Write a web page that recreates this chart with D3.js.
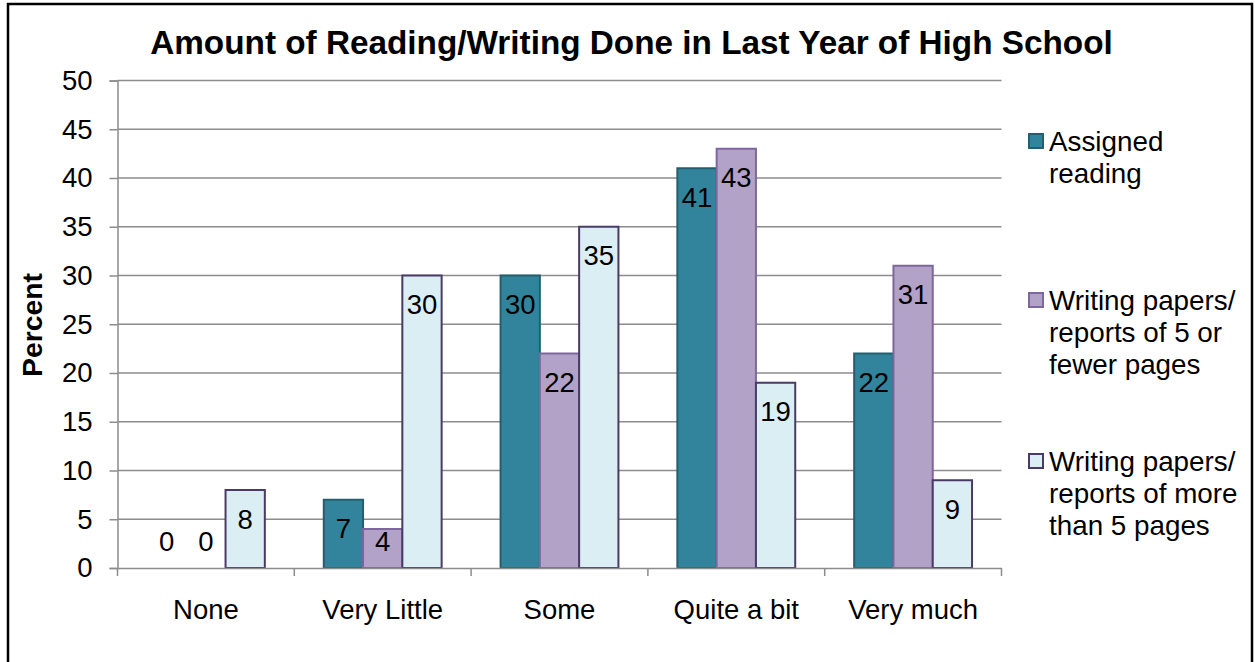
<!DOCTYPE html>
<html>
<head>
<meta charset="utf-8">
<script src="https://cdn.jsdelivr.net/npm/d3@7"></script>
<style>
  html, body { margin: 0; padding: 0; background: #fff; }
  svg { display: block; font-family: "Liberation Sans", Arial, sans-serif; }
</style>
</head>
<body>
<svg id="chart" width="1255" height="662"></svg>
<script>
// Survey categories and percentages per series
const categories = ["None", "Very Little", "Some", "Quite a bit", "Very much"];
const seriesNames = ["Assigned reading", "Writing papers/ reports of 5 or fewer pages", "Writing papers/ reports of more than 5 pages"];
const legendLines = [
  ["Assigned", "reading"],
  ["Writing papers/", "reports of 5 or", "fewer pages"],
  ["Writing papers/", "reports of more", "than 5 pages"]
];
const assignedReading = [0, 7, 30, 41, 22];
const papersShort = [0, 4, 22, 43, 31];
const papersLong = [8, 30, 35, 19, 9];
const yTicks = [0, 5, 10, 15, 20, 25, 30, 35, 40, 45, 50];

const seriesValues = [assignedReading, papersShort, papersLong];
const fills = ["#31849b", "#b3a2c7", "#dbeef4"];
const strokes = ["#23606f", "#7e679e", "#4a3b66"];

const svg = d3.select("#chart");

// Outer frame
svg.append("rect")
  .attr("x", 8).attr("y", 4).attr("width", 1244).attr("height", 700)
  .attr("fill", "none").attr("stroke", "#000").attr("stroke-width", 2.5);

const plot = { left: 117.5, right: 1001.5, top: 80.5, bottom: 568 };

const x0 = d3.scaleBand().domain(categories).range([plot.left, plot.right]).padding(0);
const x1 = d3.scaleBand().domain(d3.range(seriesNames.length))
  .range([0, x0.bandwidth()]).paddingInner(0).paddingOuter(0.75);
const y = d3.scaleLinear().domain([0, 50]).range([plot.bottom, plot.top]);

// Horizontal gridlines
svg.append("g").selectAll("line").data(yTicks.filter(t => t > 0)).join("line")
  .attr("x1", plot.left).attr("x2", plot.right)
  .attr("y1", d => y(d)).attr("y2", d => y(d))
  .attr("stroke", "#8c8c8c").attr("stroke-width", 1.5);

// Y axis
const yAxis = svg.append("g")
  .attr("transform", `translate(${plot.left},0)`)
  .call(d3.axisLeft(y).tickValues(yTicks).tickSize(8).tickPadding(17).tickFormat(d3.format("d")));
yAxis.select(".domain").attr("stroke", "#8c8c8c").attr("stroke-width", 1.5);
yAxis.selectAll(".tick line").attr("stroke", "#8c8c8c").attr("stroke-width", 1.5);
yAxis.selectAll(".tick text")
  .attr("font-size", "27.5px").attr("fill", "#000")
  .attr("font-family", "'Liberation Sans', Arial, sans-serif");

// Bars
const groups = svg.append("g").selectAll("g").data(categories).join("g")
  .attr("transform", c => `translate(${x0(c)},0)`);

groups.each(function (c, ci) {
  const g = d3.select(this);
  seriesValues.forEach((vals, si) => {
    const v = vals[ci];
    if (v > 0) {
      g.append("rect")
        .attr("x", x1(si)).attr("width", x1.bandwidth())
        .attr("y", y(v)).attr("height", y(0) - y(v))
        .attr("fill", fills[si]).attr("stroke", strokes[si]).attr("stroke-width", 2);
    }
  });
});

// X axis (drawn over bar bottoms)
const xAxis = svg.append("g")
  .attr("transform", `translate(0,${plot.bottom})`)
  .call(d3.axisBottom(x0).tickSize(0).tickPadding(0).tickFormat(""));
xAxis.select(".domain").attr("stroke", "#8c8c8c").attr("stroke-width", 1.5);
xAxis.selectAll(".tick").remove();

// Category boundary tick marks
const boundaries = categories.map(c => x0(c)).concat([plot.right]);
svg.append("g").selectAll("line").data(boundaries).join("line")
  .attr("x1", d => d).attr("x2", d => d)
  .attr("y1", plot.bottom).attr("y2", plot.bottom + 8)
  .attr("stroke", "#8c8c8c").attr("stroke-width", 1.5);

// Category labels
svg.append("g").selectAll("text").data(categories).join("text")
  .attr("x", c => x0(c) + x0.bandwidth() / 2)
  .attr("y", 619)
  .attr("text-anchor", "middle")
  .attr("font-size", "27.5px").attr("fill", "#000")
  .text(c => c);

// Data labels, inside the bar end, kept above the baseline for short bars
groups.each(function (c, ci) {
  const g = d3.select(this);
  seriesValues.forEach((vals, si) => {
    const v = vals[ci];
    const cy = Math.min(y(v) + 29, plot.bottom - 27);
    g.append("text")
      .attr("x", x1(si) + x1.bandwidth() / 2)
      .attr("y", cy)
      .attr("dy", "0.35em")
      .attr("text-anchor", "middle")
      .attr("font-size", "27.5px").attr("fill", "#000")
      .text(v);
  });
});

// Title
svg.append("text")
  .attr("x", 631.5).attr("y", 54)
  .attr("text-anchor", "middle")
  .attr("font-size", "33.3px").attr("font-weight", "bold").attr("fill", "#000")
  .text("Amount of Reading/Writing Done in Last Year of High School");

// Y axis title
svg.append("text")
  .attr("transform", "translate(42,325) rotate(-90)")
  .attr("text-anchor", "middle")
  .attr("font-size", "28.3px").attr("font-weight", "bold").attr("fill", "#000")
  .text("Percent");

// Legend
const legendTops = [141, 300, 461];
const legend = svg.append("g");
legendLines.forEach((lines, i) => {
  legend.append("rect")
    .attr("x", 1029).attr("y", legendTops[i] - 7)
    .attr("width", 14).attr("height", 14)
    .attr("fill", fills[i]).attr("stroke", strokes[i]).attr("stroke-width", 2);
  const t = legend.append("text")
    .attr("font-size", "27.8px").attr("fill", "#000");
  lines.forEach((line, li) => {
    t.append("tspan")
      .attr("x", 1049)
      .attr("y", legendTops[i] + li * 32)
      .attr("dy", "0.35em")
      .text(line);
  });
});
</script>
</body>
</html>
